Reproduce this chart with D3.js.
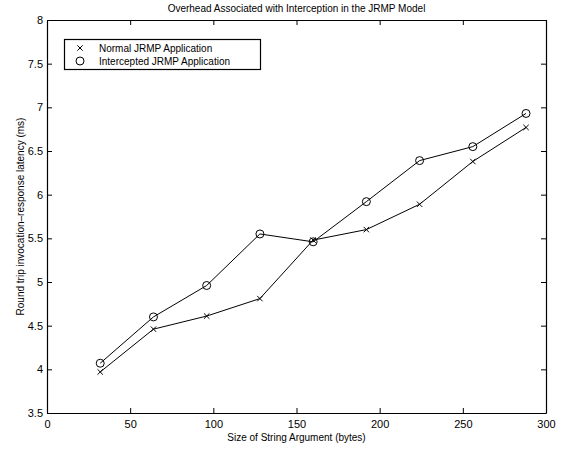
<!DOCTYPE html>
<html>
<head>
<meta charset="utf-8">
<script src="https://cdn.jsdelivr.net/npm/d3@7"></script>
<style>
  body { margin: 0; background: #fff; }
  text { font-family: "Liberation Sans", Arial, sans-serif; fill: #000; }
</style>
</head>
<body>
<div id="chart"></div>
<script>
const width = 564, height = 449;

// data
const sizes = [32, 64, 96, 128, 160, 192, 224, 256, 288];
const normal = [3.97, 4.46, 4.61, 4.81, 5.48, 5.60, 5.89, 6.38, 6.77];
const intercepted = [4.07, 4.60, 4.96, 5.55, 5.46, 5.92, 6.39, 6.55, 6.93];
const xTicks = [0, 50, 100, 150, 200, 250, 300];
const yTicks = [3.5, 4, 4.5, 5, 5.5, 6, 6.5, 7, 7.5, 8];

const m = {left: 47, right: 546, top: 20, bottom: 413};

const x = d3.scaleLinear().domain([0, 300]).range([m.left, m.right]);
const y = d3.scaleLinear().domain([3.5, 8]).range([m.bottom, m.top]);

const svg = d3.select("#chart").append("svg")
    .attr("width", width)
    .attr("height", height);

// axes (inner ticks, box style)
svg.append("g")
    .attr("transform", "translate(0," + m.bottom + ")")
    .call(d3.axisBottom(x).tickValues(xTicks).tickSizeInner(-5).tickSizeOuter(0).tickPadding(7).tickFormat(d3.format("d")));
svg.append("g")
    .attr("transform", "translate(0," + m.top + ")")
    .call(d3.axisTop(x).tickValues(xTicks).tickSizeInner(-5).tickSizeOuter(0).tickFormat(""));
svg.append("g")
    .attr("transform", "translate(" + m.left + ",0)")
    .call(d3.axisLeft(y).tickValues(yTicks).tickSizeInner(-5).tickSizeOuter(0).tickPadding(4).tickFormat(d => d));
svg.append("g")
    .attr("transform", "translate(" + m.right + ",0)")
    .call(d3.axisRight(y).tickValues(yTicks).tickSizeInner(-5).tickSizeOuter(0).tickFormat(""));

svg.selectAll(".domain").attr("stroke", "#000").attr("stroke-width", 1.2);
svg.selectAll(".tick line").attr("stroke", "#000");
svg.selectAll(".tick text").attr("font-size", 11).attr("font-family", "Liberation Sans, Arial, sans-serif").attr("fill", "#000");

// lines
const line = d3.line().x((d, i) => x(sizes[i])).y(d => y(d));

svg.append("path").datum(normal)
    .attr("d", line).attr("fill", "none").attr("stroke", "#000").attr("stroke-width", 1);
svg.append("path").datum(intercepted)
    .attr("d", line).attr("fill", "none").attr("stroke", "#000").attr("stroke-width", 1);

// markers
const crossPath = s => "M" + (-s) + "," + (-s) + "L" + s + "," + s + "M" + (-s) + "," + s + "L" + s + "," + (-s);

svg.append("g").selectAll("path")
  .data(normal)
  .join("path")
    .attr("transform", (d, i) => "translate(" + x(sizes[i]) + "," + y(d) + ")")
    .attr("d", crossPath(2.7))
    .attr("stroke", "#000").attr("stroke-width", 1).attr("fill", "none");

svg.append("g").selectAll("circle")
  .data(intercepted)
  .join("circle")
    .attr("cx", (d, i) => x(sizes[i]))
    .attr("cy", d => y(d))
    .attr("r", 4)
    .attr("stroke", "#000").attr("stroke-width", 1).attr("fill", "none");

// legend
const legend = svg.append("g");
legend.append("rect")
    .attr("x", 64.5).attr("y", 39.5).attr("width", 196).attr("height", 30)
    .attr("fill", "#fff").attr("stroke", "#000").attr("stroke-width", 1.2);
legend.append("path")
    .attr("transform", "translate(80,48)")
    .attr("d", crossPath(2.7)).attr("stroke", "#000").attr("fill", "none");
legend.append("circle")
    .attr("cx", 80).attr("cy", 61).attr("r", 4)
    .attr("stroke", "#000").attr("fill", "none");
legend.append("text").attr("x", 99).attr("y", 51.5).attr("font-size", 10).text("Normal JRMP Application");
legend.append("text").attr("x", 99).attr("y", 64.5).attr("font-size", 10).text("Intercepted JRMP Application");

// titles
svg.append("text")
    .attr("x", (m.left + m.right) / 2).attr("y", 11.5)
    .attr("text-anchor", "middle").attr("font-size", 10)
    .text("Overhead Associated with Interception in the JRMP Model");
svg.append("text")
    .attr("x", (m.left + m.right) / 2).attr("y", 441)
    .attr("text-anchor", "middle").attr("font-size", 10)
    .text("Size of String Argument (bytes)");
svg.append("text")
    .attr("transform", "translate(24," + ((m.top + m.bottom) / 2) + ") rotate(-90)")
    .attr("text-anchor", "middle").attr("font-size", 10)
    .text("Round trip invocation\u2013response latency (ms)");
</script>
</body>
</html>
